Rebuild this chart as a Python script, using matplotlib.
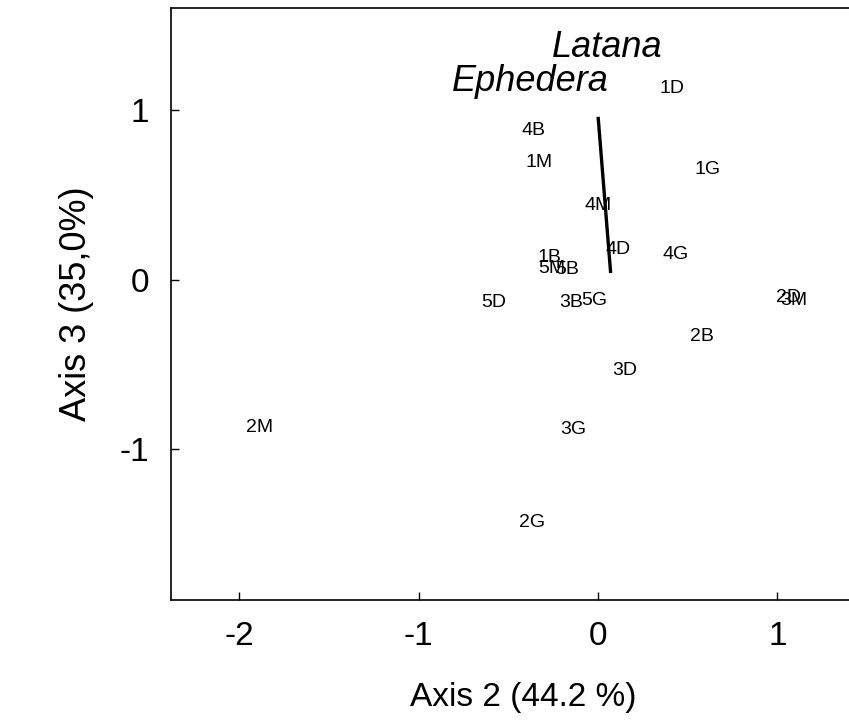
import matplotlib.pyplot as plt

plt.rcParams['font.family'] = ['Liberation Sans', 'DejaVu Sans']

# site scores (label positions) on axis 2 / axis 3
sites = ['1D', '4B', '1M', '1G', '4M', '4D', '4G', '1B', '5M', '5B',
         '5D', '3B', '5G', '2D', '3M', '2B', '3D', '3G', '2G', '2M']
axis2 = [0.41, -0.36, -0.33, 0.61, 0.00, 0.11, 0.43, -0.27, -0.26, -0.17,
         -0.58, -0.15, -0.02, 1.06, 1.09, 0.58, 0.15, -0.14, -0.37, -1.89]
axis3 = [1.14, 0.89, 0.70, 0.66, 0.45, 0.19, 0.16, 0.14, 0.08, 0.07,
         -0.12, -0.12, -0.11, -0.09, -0.11, -0.32, -0.52, -0.87, -1.42, -0.86]

# species vector
vec_x = [0.0, 0.07]
vec_y = [0.96, 0.04]
species = ['Latana', 'Ephedera']
species_x = [0.05, -0.38]
species_y = [1.39, 1.19]

fig = plt.figure(figsize=(8.49, 7.28), dpi=100)
ax = fig.add_axes([0.2018, 0.1758, 0.829, 0.8132])

ax.plot(vec_x, vec_y, color='black', linewidth=2.4, solid_capstyle='butt')

for lab, x, y in zip(sites, axis2, axis3):
    ax.text(x, y, lab, fontsize=14, ha='center', va='center_baseline')

for lab, x, y in zip(species, species_x, species_y):
    ax.text(x, y, lab, fontsize=26, style='italic', ha='center', va='center_baseline')

ax.set_xlim(-2.38, 1.545)
ax.set_ylim(-1.887, 1.601)
ax.set_xticks([-2, -1, 0, 1])
ax.set_yticks([-1, 0, 1])
ax.set_xticklabels(['-2', '-1', '0', '1'])
ax.set_yticklabels(['-1', '0', '1'])
ax.tick_params(direction='in', length=6, width=1, labelsize=24)
ax.tick_params(axis='x', pad=15)
ax.tick_params(axis='y', pad=16)

for s in ax.spines.values():
    s.set_linewidth(1.2)

ax.set_xlabel('Axis 2 (44.2 %)', fontsize=24, labelpad=22)
ax.set_ylabel('Axis 3 (35,0%)', fontsize=26, labelpad=18)

fig.savefig('out.png', dpi=100)
